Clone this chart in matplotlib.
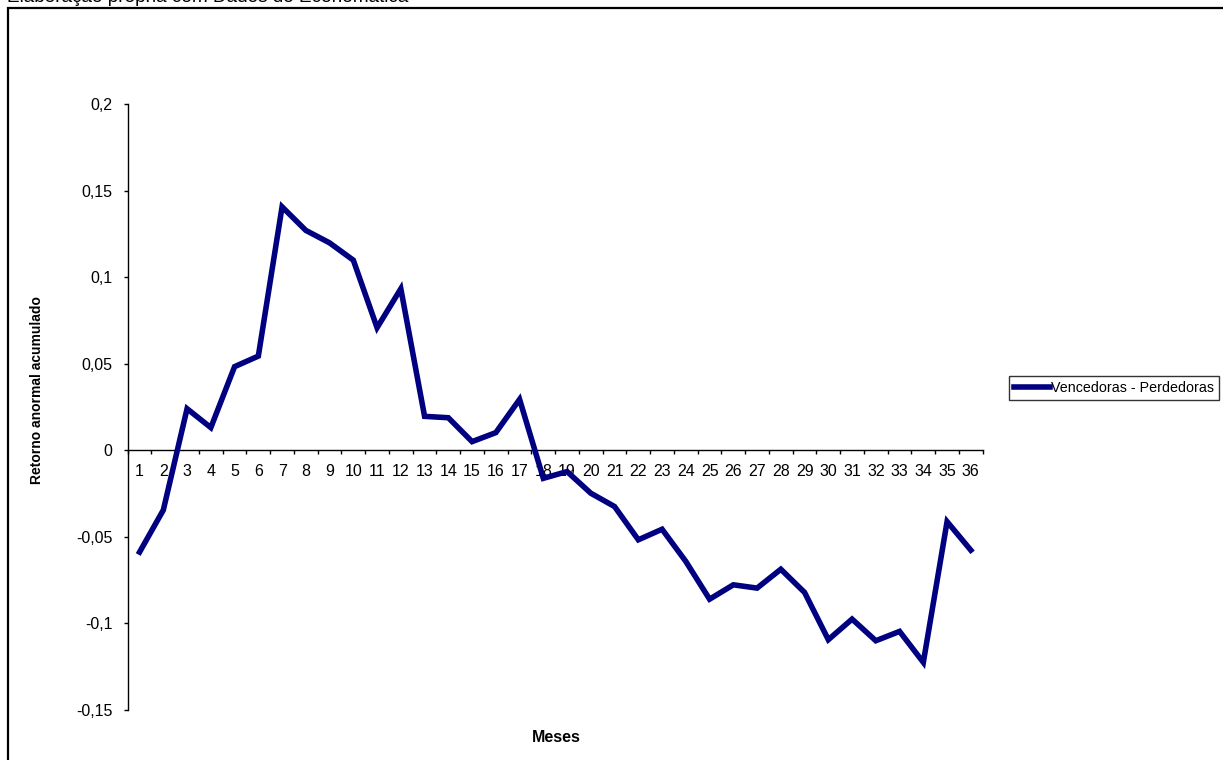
import matplotlib
matplotlib.use('Agg')
import matplotlib.pyplot as plt
from matplotlib.patches import Rectangle
import numpy as np

plt.rcParams['font.family'] = ['Liberation Sans', 'DejaVu Sans']

# dados
meses = list(range(1, 37))
retorno = [-0.0588, -0.0345, 0.0240, 0.0131, 0.0483, 0.0544, 0.1406, 0.1270,
           0.1198, 0.1098, 0.0708, 0.0933, 0.0196, 0.0188, 0.0050, 0.0102,
           0.0294, -0.0162, -0.0123, -0.0248, -0.0325, -0.0517, -0.0456, -0.0642,
           -0.0860, -0.0777, -0.0796, -0.0687, -0.0821, -0.1094, -0.0975, -0.1100,
           -0.1046, -0.1225, -0.0412, -0.0577]
serie_nome = 'Vencedoras - Perdedoras'
yticks = [-0.15, -0.1, -0.05, 0, 0.05, 0.1, 0.15, 0.2]
ytick_labels = ['-0,15', '-0,1', '-0,05', '0', '0,05', '0,1', '0,15', '0,2']

W, H = 1223, 760
fig = plt.figure(figsize=(W / 100, H / 100), dpi=100)
ax = fig.add_axes([127.7 / W, 1 - 710 / H, 855 / W, 606 / H])

ax.plot(meses, retorno, color='#000080', linewidth=4, label=serie_nome,
        solid_joinstyle='miter', zorder=3)

ax.set_xlim(0.5, 36.5)
ax.set_ylim(-0.15, 0.2)

for s in ['top', 'right']:
    ax.spines[s].set_visible(False)
ax.spines['bottom'].set_position(('data', 0))
ax.spines['bottom'].set_linewidth(1)
ax.spines['left'].set_linewidth(1)

ax.set_yticks(yticks)
ax.set_yticklabels(ytick_labels)
ax.tick_params(axis='y', direction='out', length=3, width=1, pad=8, labelsize=11.5)

ax.set_xticks(meses)
ax.set_xticklabels([str(m) for m in meses])
ax.set_xticks(np.arange(0.5, 37, 1), minor=True)
ax.tick_params(axis='x', which='major', length=0, pad=10, labelsize=11.5)
ax.tick_params(axis='x', which='minor', direction='out', length=3, width=1)

fig.text(37 / W, 1 - 390 / H, 'Retorno anormal acumulado', rotation=90,
         fontsize=10, fontweight='bold', ha='center', va='center')
fig.text(556 / W, 1 - 738 / H, 'Meses', fontsize=11.5, fontweight='bold',
         ha='center', va='center')

fig.text(7 / W, 1 - 2 / H, 'Elaboração própria com Dados do Economática',
         fontsize=13.7, ha='left', va='baseline')

# moldura do gráfico
fig.add_artist(Rectangle((7.5 / W, -0.1), 1.2, 1.1 - 8.5 / H,
                         transform=fig.transFigure, fill=False,
                         edgecolor='black', linewidth=1.6))

leg = fig.legend(loc='center left', bbox_to_anchor=(1009 / W, 1 - 388 / H),
                 frameon=True, fancybox=False, edgecolor='black',
                 fontsize=10.3, handlelength=2.5, handletextpad=0.1,
                 borderpad=0.35, borderaxespad=0)
leg.get_frame().set_linewidth(1)

plt.savefig('out.png', dpi=100)
